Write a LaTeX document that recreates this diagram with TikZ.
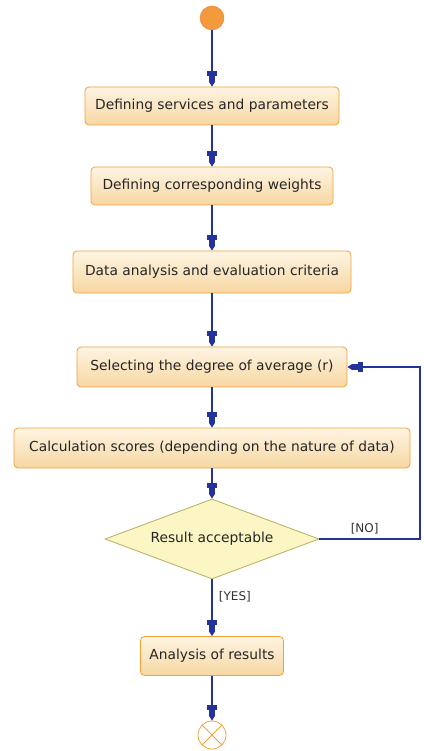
\documentclass[tikz,border=0pt]{standalone}
\usepackage{fontspec}
\setmainfont{DejaVu Sans}
\usetikzlibrary{arrows.meta,shapes.geometric,shapes.misc,positioning}
\definecolor{boxtop}{HTML}{FEF4E2}
\definecolor{boxbot}{HTML}{F7D7A2}
\definecolor{boxline}{HTML}{EFA23A}
\definecolor{dia}{HTML}{FBF6C4}
\definecolor{dialine}{HTML}{B5AE62}
\definecolor{flow}{HTML}{24339C}
\definecolor{startc}{HTML}{F39A3C}
\tikzset{
  stepbox/.style={draw=boxline, line width=0.8pt, rounded corners=4pt, top color=boxtop, bottom color=boxbot, font=\fontsize{13.8}{16}\selectfont, text=black!85, inner sep=0pt},
  decide/.style={diamond, draw=dialine, line width=0.8pt, fill=dia, aspect=2.7, inner sep=0pt, font=\fontsize{13.8}{16}\selectfont, text=black!85},
  flowline/.style={draw=flow, line width=1.2pt},
  flowarrow/.style={flowline, -{Square[width=10pt,length=5pt,sep=0pt]Square[width=6pt,length=6pt,sep=0pt]Triangle[width=6pt,length=5pt]}},
  lbl/.style={font=\fontsize{12}{14}\selectfont, text=black!80},
}
\begin{document}
\begin{tikzpicture}[x=1pt,y=-1pt]
\useasboundingbox (0,0) rectangle (423,751);
\node[circle, fill=startc, draw=startc!80!red, minimum size=24pt, inner sep=0pt] (start) at (212,18) {};
\node[stepbox, minimum width=254pt, minimum height=38pt] (b1) at (212,106) {Defining services and parameters};
\node[stepbox, minimum width=242pt, minimum height=38pt] (b2) at (212,186) {Defining corresponding weights};
\node[stepbox, minimum width=278pt, minimum height=42pt] (b3) at (212,272) {Data analysis and evaluation criteria};
\node[stepbox, minimum width=270pt, minimum height=40pt] (b4) at (212,367) {Selecting the degree of average (r)};
\node[stepbox, minimum width=396pt, minimum height=40pt] (b5) at (212,448) {Calculation scores (depending on the nature of data)};
\node[decide, minimum width=214pt, minimum height=80pt] (d) at (212,539) {Result acceptable};
\node[stepbox, minimum width=143pt, minimum height=39pt] (b6) at (212,656) {Analysis of results};
\node[circle, draw=boxline, line width=0.8pt, minimum size=28pt, inner sep=0pt] (end) at (212,735) {};
\draw[boxline, line width=0.8pt] (end.north west) -- (end.south east) (end.north east) -- (end.south west);
\coordinate (c1) at (420,539);
\coordinate (c2) at (420,367);
\draw[flowarrow] (start) -- (b1);
\draw[flowarrow] (b1) -- (b2);
\draw[flowarrow] (b2) -- (b3);
\draw[flowarrow] (b3) -- (b4);
\draw[flowarrow] (b4) -- (b5);
\draw[flowarrow] (b5) -- (d);
\draw[flowarrow] (d) -- node[lbl, pos=0.3, right=3pt] {[YES]} (b6);
\draw[flowarrow] (b6) -- (end);
\draw[flowarrow] (d.east) -- node[lbl, above=1pt, pos=0.45] {[NO]} (c1) -- (c2) -- (b4.east);
\end{tikzpicture}
\end{document}
